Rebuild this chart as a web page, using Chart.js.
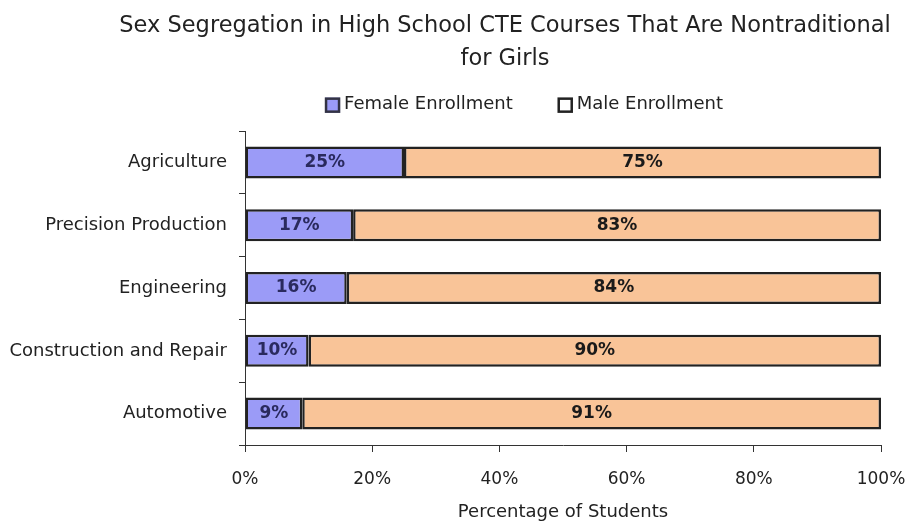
<!DOCTYPE html>
<html>
<head>
<meta charset="utf-8">
<script src="https://cdn.jsdelivr.net/npm/chart.js@4.4.1/dist/chart.umd.min.js"></script>
<style>
  html, body { margin: 0; padding: 0; background: #ffffff; }
  #wrap { width: 909px; height: 521px; position: relative; }
</style>
</head>
<body>
<div id="wrap"><canvas id="c" width="909" height="521"></canvas></div>
<script>
const categories = ["Agriculture", "Precision Production", "Engineering", "Construction and Repair", "Automotive"];
const femaleValues = [25, 17, 16, 10, 9];
const maleValues = [75, 83, 84, 90, 91];
const xTicks = [0, 20, 40, 60, 80, 100];
const titleLines = ["Sex Segregation in High School CTE Courses That Are Nontraditional", "for Girls"];
const xAxisTitle = "Percentage of Students";
const seriesNames = ["Female Enrollment", "Male Enrollment"];

const FONT = "'DejaVu Sans', sans-serif";
const FEMALE = "#9b9bf7";
const MALE = "#f9c498";
const INK = "#222222";

const shiftPlugin = {
  id: 'shiftBlocks',
  afterLayout(chart) {
    const ca = chart.chartArea;
    const tb = chart.titleBlock;
    if (tb) {
      const c = (ca.left + ca.right) / 2 - 58;
      const w = tb.right - tb.left;
      tb.left = c - w / 2; tb.right = c + w / 2;
    }
  }
};

const legendPlugin = {
  id: 'customLegend',
  afterDraw(chart) {
    const ctx = chart.ctx;
    const ca = chart.chartArea;
    ctx.save();
    ctx.font = "18px " + FONT;
    ctx.textBaseline = 'middle';
    ctx.textAlign = 'left';
    const box = 15, gapText = 4, gapItem = 45;
    const w1 = ctx.measureText(seriesNames[0]).width;
    const w2 = ctx.measureText(seriesNames[1]).width;
    const total = box + gapText + w1 + gapItem + box + gapText + w2;
    const cx = (ca.left + ca.right) / 2 - 39;
    const y = ca.top - 27;
    let x = cx - total / 2;
    const fills = [FEMALE, '#ffffff'];
    const strokes = ['#333344', INK];
    for (let i = 0; i < 2; i++) {
      ctx.fillStyle = fills[i];
      ctx.fillRect(x, y - box / 2 + 1, box, box);
      ctx.lineWidth = 2.5;
      ctx.strokeStyle = strokes[i];
      ctx.strokeRect(x + 1, y - box / 2 + 2, box - 2, box - 2);
      x += box + gapText;
      ctx.fillStyle = INK;
      ctx.fillText(seriesNames[i], x, y);
      x += (i === 0 ? w1 : w2) + gapItem;
    }
    ctx.restore();
  }
};

const labelPlugin = {
  id: 'barLabels',
  afterDatasetsDraw(chart) {
    const ctx = chart.ctx;
    ctx.save();
    ctx.font = "bold 17px " + FONT;
    ctx.textAlign = 'center';
    ctx.textBaseline = 'middle';
    chart.data.datasets.forEach((ds, di) => {
      const meta = chart.getDatasetMeta(di);
      meta.data.forEach((bar, i) => {
        const cx = (bar.x + bar.base) / 2;
        ctx.fillStyle = di === 0 ? '#2a2a5e' : '#1a1a1a';
        ctx.fillText(ds.data[i] + '%', cx, bar.y);
      });
    });
    ctx.restore();
  }
};

new Chart(document.getElementById('c'), {
  type: 'bar',
  data: {
    labels: categories,
    datasets: [
      { label: seriesNames[0], data: femaleValues, backgroundColor: FEMALE, borderColor: INK, borderWidth: 2.5, borderSkipped: false },
      { label: seriesNames[1], data: maleValues, backgroundColor: MALE, borderColor: INK, borderWidth: 2.5, borderSkipped: false }
    ]
  },
  options: {
    indexAxis: 'y',
    responsive: false,
    animation: false,
    devicePixelRatio: 1,
    layout: { padding: { left: 0, right: 28, top: 0, bottom: 0 } },
    datasets: { bar: { barPercentage: 0.51, categoryPercentage: 1.0 } },
    plugins: {
      title: {
        display: true,
        text: titleLines,
        color: INK,
        font: { family: FONT, size: 22.5, weight: 'normal', lineHeight: 1.47 },
        padding: { top: 10, bottom: 55 }
      },
      legend: { display: false },
      tooltip: { enabled: false }
    },
    scales: {
      x: {
        stacked: true,
        min: 0,
        max: 100,
        afterBuildTicks(scale) { scale.ticks = xTicks.map(v => ({ value: v })); },
        afterFit(scale) { scale.height = 76; scale.paddingLeft = 0; scale.paddingRight = 0; },
        ticks: {
          color: INK,
          font: { family: FONT, size: 17 },
          padding: 17,
          callback: v => v + '%'
        },
        grid: { drawOnChartArea: false, drawTicks: true, tickLength: 7, color: '#333333' },
        border: { display: true, color: '#333333', width: 1 },
        title: {
          display: true,
          text: xAxisTitle,
          color: INK,
          font: { family: FONT, size: 18, lineHeight: 1 },
          padding: { top: 13, bottom: 0 }
        }
      },
      y: {
        stacked: true,
        afterFit(scale) { scale.width = 245; },
        ticks: {
          color: INK,
          font: { family: FONT, size: 18 },
          padding: 12
        },
        grid: { drawOnChartArea: false, drawTicks: true, tickLength: 6, offset: true, color: '#333333' },
        border: { display: true, color: '#333333', width: 1 }
      }
    }
  },
  plugins: [shiftPlugin, legendPlugin, labelPlugin]
});
</script>
</body>
</html>
